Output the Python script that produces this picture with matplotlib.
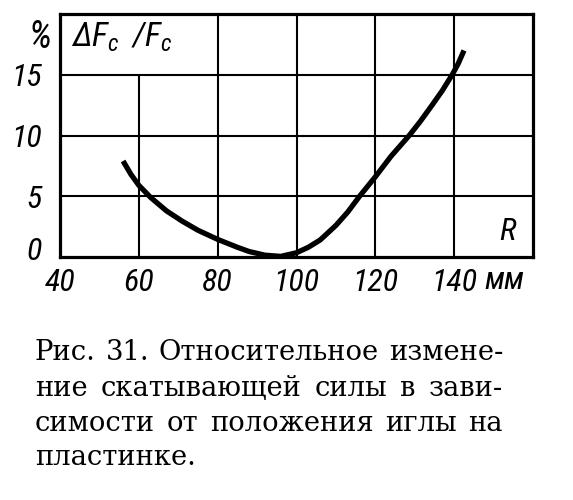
import matplotlib
matplotlib.use("Agg")
import matplotlib.pyplot as plt
import matplotlib.transforms as mtransforms

# curve: R in mm, relative change in %
r_mm = [56.0, 58.0, 60.0, 63.0, 67.0, 71.0, 75.0, 80.0, 85.0, 88.0, 92.0, 96.0,
        100.0, 103.0, 106.0, 110.0, 113.0, 116.0, 120.0, 124.0, 128.6, 131.5,
        134.4, 137.0, 139.5, 141.0, 142.5]
delta_pct = [7.9, 6.8, 5.9, 4.9, 3.8, 2.95, 2.2, 1.45, 0.8, 0.45, 0.15, 0.05,
             0.35, 0.8, 1.4, 2.6, 3.7, 5.0, 6.6, 8.3, 10.0, 11.2,
             12.5, 13.7, 15.0, 15.9, 17.0]

x_ticks = [40, 60, 80, 100, 120, 140]
x_labels = ["40", "60", "80", "100", "120", "140"]
y_ticks = [0, 5, 10, 15]
y_labels = ["0", "5", "10", "15"]
grid_x = [60, 80, 100, 120, 140]
grid_x_top = [15, 20, 20, 20, 20]   # the 60 line stops under the label
grid_y = [5, 10, 15]

caption = [
    "Рис. 31. Относительное измене-",
    "ние скатывающей силы в зави-",
    "симости от положения иглы на",
    "пластинке.",
]

plt.rcParams["mathtext.fontset"] = "custom"
plt.rcParams["mathtext.it"] = "Roboto Condensed:style=italic"
plt.rcParams["mathtext.rm"] = "Roboto Condensed:style=italic"

lab = dict(family=["Roboto Condensed", "DejaVu Sans"], style="italic",
           weight="normal", fontsize=23)

W, H = 573, 500
fig = plt.figure(figsize=(W / 100, H / 100), dpi=100)
ax = fig.add_axes([60 / W, 1 - 257 / H, 473 / W, 243 / H])

ax.set_xlim(40, 160)
ax.set_ylim(0, 20)

for x, top in zip(grid_x, grid_x_top):
    ax.vlines(x, 0, top, color="black", lw=1.5, zorder=1)
ax.hlines(grid_y, 40, 160, color="black", lw=1.5, zorder=1)

ax.plot(r_mm, delta_pct, color="black", lw=3.8, solid_capstyle="butt",
        solid_joinstyle="round", clip_on=False, zorder=3)

for s in ax.spines.values():
    s.set_linewidth(2.3)

ax.set_xticks(x_ticks)
ax.set_xticklabels(x_labels, **lab)
ax.set_yticks(y_ticks)
ax.set_yticklabels(y_labels, **lab)
ax.tick_params(axis="x", length=0, pad=8)
ax.tick_params(axis="y", length=0, pad=13)
# the zero label sits a bit above the axis line
zl = ax.get_yticklabels()[0]
zl.set_transform(zl.get_transform() + mtransforms.ScaledTranslation(0, 9 / 100, fig.dpi_scale_trans))

pct = dict(lab, fontsize=27)
ax.text(-0.017, 0.905, "%", transform=ax.transAxes, ha="right", va="center", **pct)
ax.text(152.7, -1.95, "мм", ha="center", va="center", clip_on=False, **lab)
ax.text(153.4, 2.1, "R", ha="center", va="center", **lab)
ax.text(42.8, 18.1, r"$\mathit{ΔF_c\;\;/F_c}$", ha="left", va="center",
        fontsize=24)

# justified caption
renderer = fig.canvas.get_renderer()
left, right = 35, 503
baselines = [360, 396, 431, 465]
cap_font = dict(family="DejaVu Serif", fontsize=19.7)
for i, line in enumerate(caption):
    words = line.split(" ")
    yb = 1 - baselines[i] / H
    if i == len(caption) - 1:
        fig.text(left / W, yb, line, ha="left", va="baseline", **cap_font)
        continue
    items = [fig.text(0, yb, w, ha="left", va="baseline", **cap_font) for w in words]
    widths = [t.get_window_extent(renderer).width for t in items]
    gap = (right - left - sum(widths)) / (len(words) - 1)
    x = left
    for t, w in zip(items, widths):
        t.set_x(x / W)
        x += w + gap

fig.savefig("out.png", dpi=100)
